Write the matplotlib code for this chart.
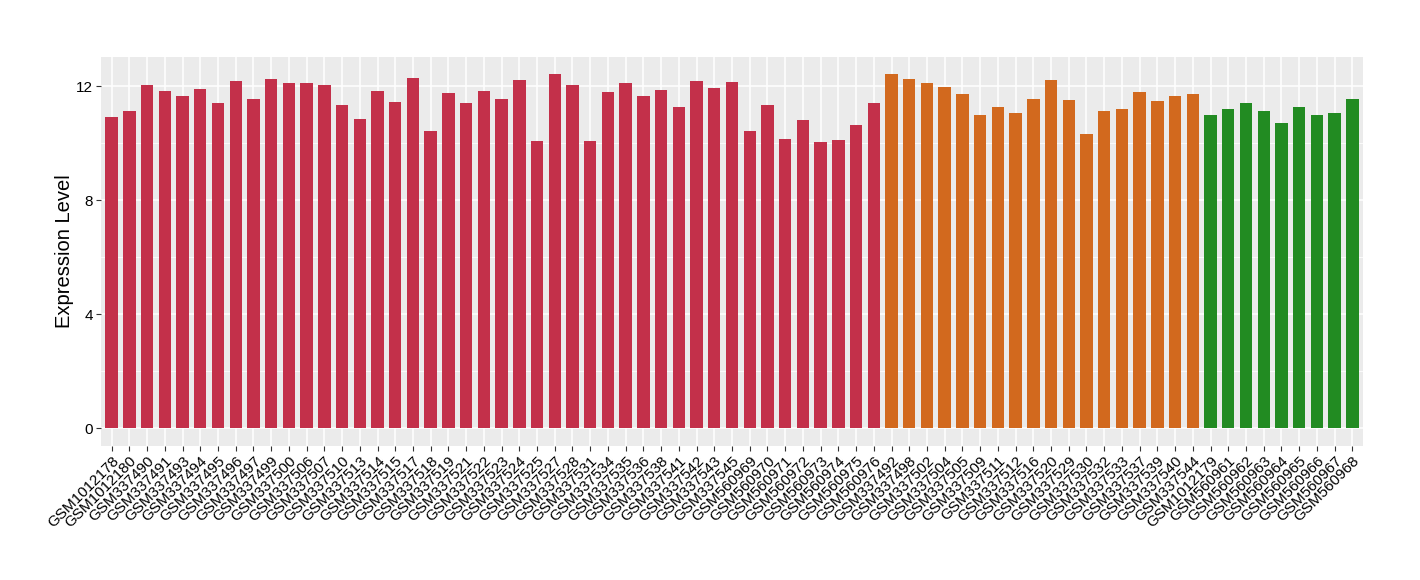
import matplotlib
matplotlib.use("Agg")
import matplotlib.pyplot as plt
from matplotlib.ticker import MultipleLocator

plt.rcParams["font.family"] = ["Liberation Sans", "DejaVu Sans"]

# samples per group, in plotting order
red_samples = [
    "GSM1012178", "GSM1012180", "GSM337490", "GSM337491", "GSM337493", "GSM337494",
    "GSM337495", "GSM337496", "GSM337497", "GSM337499", "GSM337500", "GSM337506",
    "GSM337507", "GSM337510", "GSM337513", "GSM337514", "GSM337515", "GSM337517",
    "GSM337518", "GSM337519", "GSM337521", "GSM337522", "GSM337523", "GSM337524",
    "GSM337525", "GSM337527", "GSM337528", "GSM337531", "GSM337534", "GSM337535",
    "GSM337536", "GSM337538", "GSM337541", "GSM337542", "GSM337543", "GSM337545",
    "GSM560969", "GSM560970", "GSM560971", "GSM560972", "GSM560973", "GSM560974",
    "GSM560975", "GSM560976",
]
red_values = [
    10.92, 11.13, 12.06, 11.85, 11.67, 11.92, 11.42, 12.20, 11.56, 12.24, 12.13, 12.10,
    12.03, 11.35, 10.85, 11.85, 11.45, 12.31, 10.42, 11.78, 11.42, 11.85, 11.56, 12.22,
    10.09, 12.42, 12.04, 10.09, 11.79, 12.11, 11.65, 11.86, 11.26, 12.18, 11.93, 12.14,
    10.45, 11.33, 10.16, 10.83, 10.06, 10.13, 10.66, 11.43,
]

orange_samples = [
    "GSM337492", "GSM337498", "GSM337502", "GSM337504", "GSM337505", "GSM337509",
    "GSM337511", "GSM337512", "GSM337516", "GSM337520", "GSM337529", "GSM337530",
    "GSM337532", "GSM337533", "GSM337537", "GSM337539", "GSM337540", "GSM337544",
]
orange_values = [
    12.42, 12.25, 12.11, 11.96, 11.72, 10.98, 11.26, 11.08, 11.54, 12.21, 11.51, 10.34,
    11.15, 11.19, 11.79, 11.47, 11.65, 11.72,
]

green_samples = [
    "GSM1012179", "GSM560961", "GSM560962", "GSM560963", "GSM560964", "GSM560965",
    "GSM560966", "GSM560967", "GSM560968",
]
green_values = [10.98, 11.19, 11.40, 11.12, 10.73, 11.29, 11.01, 11.08, 11.54]

groups = [
    (red_samples, red_values, "#C3304A"),
    (orange_samples, orange_values, "#D2691E"),
    (green_samples, green_values, "#228B22"),
]

fig = plt.figure(figsize=(14.2, 5.8), dpi=100)
ax = fig.add_axes([101 / 1420, 1 - 446 / 580, 1262 / 1420, (446 - 56.7) / 580])
ax.set_facecolor("#EBEBEB")

labels = []
pos = 0
for samples, values, color in groups:
    xs = list(range(pos, pos + len(samples)))
    ax.bar(xs, values, width=0.7, color=color, zorder=3)
    labels += samples
    pos += len(samples)

ax.set_xlim(-0.6, len(labels) - 0.4)
ax.set_ylim(-0.62, 13.04)
ax.set_xticks(range(len(labels)))
ax.set_xticklabels(labels, rotation=45, ha="right", va="top",
                   rotation_mode="anchor", fontsize=11, color="black")
ax.yaxis.set_major_locator(MultipleLocator(4))
ax.yaxis.set_minor_locator(MultipleLocator(2))
ax.tick_params(axis="y", labelsize=11, labelcolor="black")
ax.tick_params(which="major", length=3.5, width=0.8, color="#333333", pad=2)
ax.tick_params(which="minor", length=0)

ax.grid(which="major", color="white", linewidth=1.1, zorder=0)
ax.grid(which="minor", axis="y", color="white", linewidth=0.55, zorder=0)
ax.set_axisbelow(True)
for s in ax.spines.values():
    s.set_visible(False)

ax.set_ylabel("Expression Level", fontsize=14.5)
ax.yaxis.set_label_coords(-0.021, 0.5)

fig.savefig("out.png", dpi=100)
